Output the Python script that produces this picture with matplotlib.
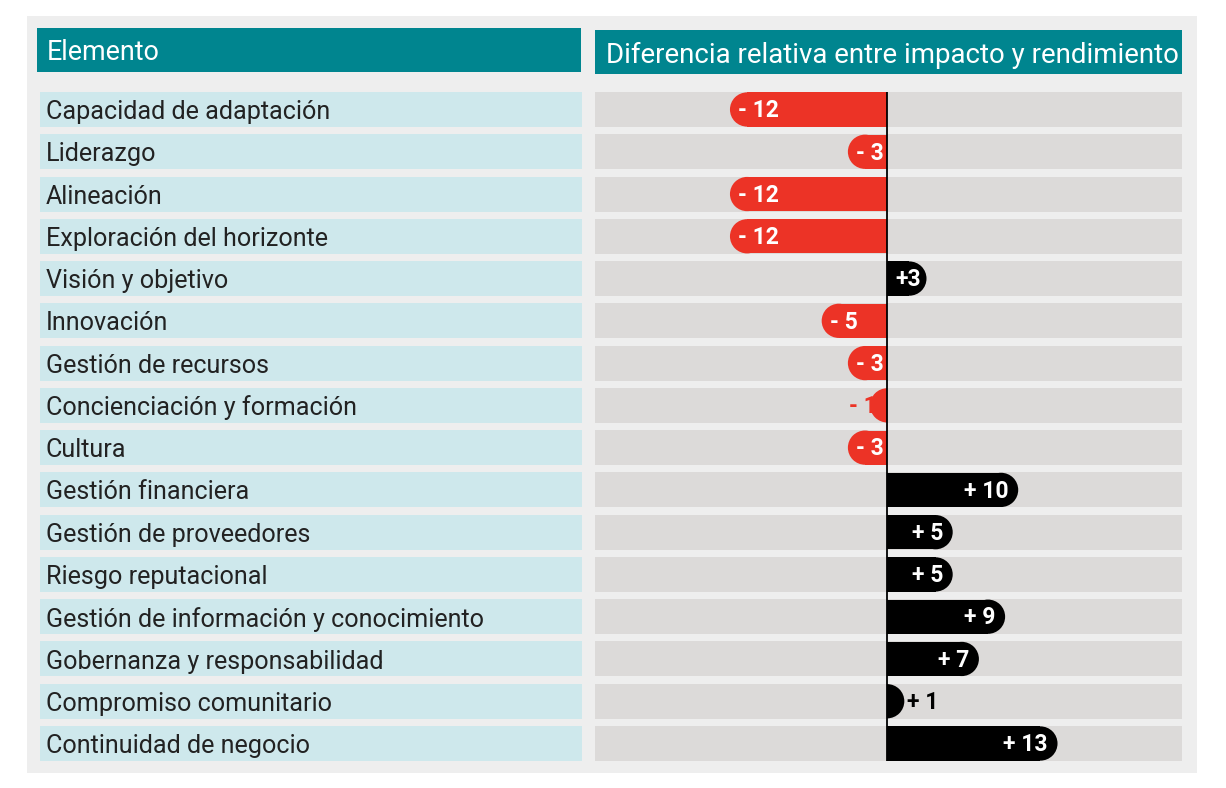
import matplotlib
matplotlib.use('Agg')
import matplotlib.pyplot as plt
from matplotlib.patches import Rectangle, Ellipse

elements = [
    "Capacidad de adaptación", "Liderazgo", "Alineación", "Exploración del horizonte",
    "Visión y objetivo", "Innovación", "Gestión de recursos", "Concienciación y formación",
    "Cultura", "Gestión financiera", "Gestión de proveedores", "Riesgo reputacional",
    "Gestión de información y conocimiento", "Gobernanza y responsabilidad",
    "Compromiso comunitario", "Continuidad de negocio",
]
values = [-12, -3, -12, -12, 3, -5, -3, -1, -3, 10, 5, 5, 9, 7, 1, 13]
value_labels = ["- 12", "- 3", "- 12", "- 12", "+3", "- 5", "- 3", "- 1", "- 3",
                "+ 10", "+ 5", "+ 5", "+ 9", "+ 7", "+ 1", "+ 13"]
header_left = "Elemento"
header_right = "Diferencia relativa entre impacto y rendimiento"

RED = "#EC3326"
BLACK = "#000000"
TEAL = "#00858F"
LIGHTBLUE = "#CEE8EC"
ROWGRAY = "#DCDAD9"
PANEL = "#EEEEEE"

FONT = "Roboto"
W, H, DPI = 1226, 788, 100
fig = plt.figure(figsize=(W / DPI, H / DPI), dpi=DPI)
fig.patch.set_facecolor("white")


def fx(px):
    return px / W


def fy(py):
    return 1 - py / H


def fig_rect(x0, y0, x1, y1, color, z=0):
    fig.add_artist(Rectangle((fx(x0), fy(y1)), fx(x1) - fx(x0), fy(y0) - fy(y1),
                             transform=fig.transFigure, facecolor=color,
                             edgecolor="none", zorder=z))


# panel and headers
fig_rect(27, 16, 1197, 773, PANEL, 0)
fig_rect(37, 28, 581, 72, TEAL, 1)
fig_rect(595, 30, 1182, 74, TEAL, 1)
fig.text(fx(47), fy(52), header_left, color="white", fontsize=19.4, family=FONT,
         fontweight="normal", va="center", ha="left", zorder=2)
fig.text(fx(606), fy(55), header_right, color="white", fontsize=19.9, family=FONT,
         fontweight="normal", va="center", ha="left", zorder=2)

n = len(elements)
TOP_PX, BOT_PX = 92, 761
row_h = 0.828
ylim = (n - 1 + row_h / 2, -row_h / 2)

# left column
axl = fig.add_axes([fx(40), fy(BOT_PX), fx(582) - fx(40), fy(TOP_PX) - fy(BOT_PX)])
axl.set_xlim(0, 1)
axl.set_ylim(*ylim)
axl.axis("off")
axl.barh(range(n), 1, left=0, height=row_h, color=LIGHTBLUE, zorder=1)
for i, name in enumerate(elements):
    axl.text(0.011, i + 0.06, name, fontsize=18.1, family=FONT, fontweight="normal",
             color="#222222", va="center", ha="left", zorder=2)

# right column
xmin, xmax = -22.3, 22.5
ax_left_px, ax_right_px = 595, 1182
ax = fig.add_axes([fx(ax_left_px), fy(BOT_PX), fx(ax_right_px) - fx(ax_left_px),
                   fy(TOP_PX) - fy(BOT_PX)])
ax.set_xlim(xmin, xmax)
ax.set_ylim(*ylim)
ax.axis("off")
ax.barh(range(n), xmax - xmin, left=xmin, height=row_h, color=ROWGRAY, zorder=1)

bar_h = 0.81
px_per_x = (ax_right_px - ax_left_px) / (xmax - xmin)
px_per_y = (BOT_PX - TOP_PX) / (ylim[0] - ylim[1])
r = (bar_h * px_per_y / 2) / px_per_x  # radius of rounded end in x data units

VS = 16.5
for i, (v, label) in enumerate(zip(values, value_labels)):
    s = 1 if v > 0 else -1
    col = BLACK if v > 0 else RED
    clip = Rectangle((0, -5), s * 100, n + 10, transform=ax.transData)
    body = s * max(abs(v) - r, 0)
    rect = Rectangle((0, i - bar_h / 2), body, bar_h, facecolor=col, edgecolor="none", zorder=2)
    ax.add_patch(rect)
    ell = Ellipse((body, i), 2 * r, bar_h, facecolor=col, edgecolor="none", zorder=2)
    ax.add_patch(ell)
    ell.set_clip_path(clip)
    rect.set_clip_path(clip)
    if abs(v) <= 1:
        if v > 0:
            ax.text(v + 0.55, i + 0.03, label, color=BLACK, fontsize=VS, family=FONT,
                    fontweight="bold", va="center", ha="left", zorder=1.5)
        else:
            ax.text(v + 0.2, i + 0.03, label, color=RED, fontsize=VS, family=FONT,
                    fontweight="bold", va="center", ha="right", zorder=1.5)
    elif v > 0:
        off = 0.4 if v < 5 else 0.75
        ax.text(v - off, i + 0.03, label, color="white", fontsize=VS, family=FONT,
                fontweight="bold", va="center", ha="right", zorder=3)
    else:
        ax.text(v + 0.65, i + 0.03, label, color="white", fontsize=VS, family=FONT,
                fontweight="bold", va="center", ha="left", zorder=3)

ax.axvline(0, color="black", lw=1.3, zorder=4)

fig.savefig("out.png", dpi=DPI, facecolor="white")
